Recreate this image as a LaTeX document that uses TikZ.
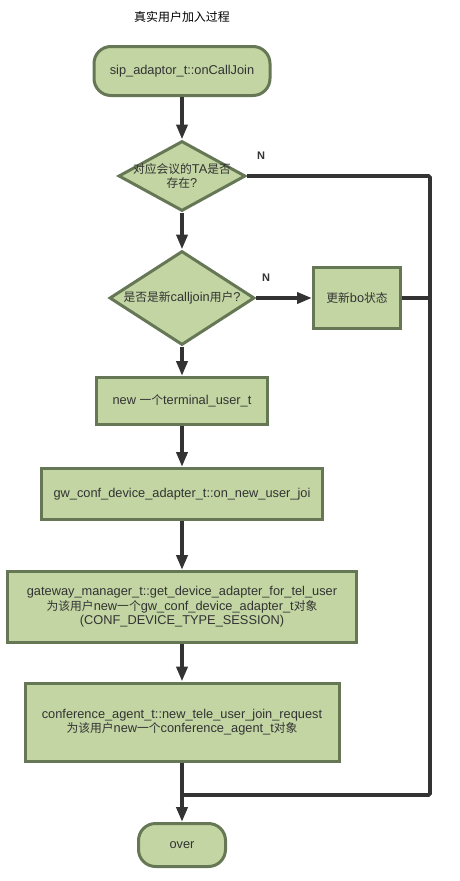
\documentclass[tikz,border=0pt]{standalone}
\usepackage{fontspec}
\setmainfont{Liberation Sans}
\newfontfamily\cjkfont[Scale=0.92]{Noto Sans CJK SC}
\usetikzlibrary{arrows.meta,positioning,shapes.geometric}
\definecolor{boxfill}{HTML}{C2D5A3}
\definecolor{boxline}{HTML}{667755}
\definecolor{flowline}{HTML}{333333}
\newcommand{\zh}[1]{{\cjkfont #1}}
\tikzset{
  terminal/.style={rectangle, rounded corners=17pt, draw=boxline, fill=boxfill, line width=3pt, text=flowline, font=\fontsize{12.8}{14.5}\selectfont, align=center},
  process/.style={rectangle, draw=boxline, fill=boxfill, line width=3pt, text=flowline, font=\fontsize{12.8}{14.5}\selectfont, align=center},
  decision/.style={diamond, draw=boxline, fill=boxfill, line width=3pt, inner sep=0pt},
  dtext/.style={text=flowline, font=\fontsize{12.8}{14.5}\selectfont, align=center, inner sep=0pt},
  arrow/.style={-{Triangle[length=15pt,width=11pt]}, line width=3.8pt, flowline},
  plainline/.style={line width=3.8pt, flowline, rounded corners=1.5pt},
  nlabel/.style={font=\bfseries\fontsize{11}{13}\selectfont, text=flowline},
  heading/.style={font=\fontsize{13}{15}\selectfont, text=black}
}

\begin{document}
\begin{tikzpicture}[x=1pt,y=-1pt]
  \useasboundingbox (0,0) rectangle (459,881);
  \node[heading] (title) at (182,17) {\zh{真实用户加入过程}};
  \node[terminal, minimum width=176pt, minimum height=49pt] (start) at (182,71) {sip\_adaptor\_t::onCallJoin};
  \node[decision, minimum width=127pt, minimum height=70pt] (tacheck) at (182,176) {};
  \node[dtext] (tatext) at (tacheck) {\zh{对应会议的}TA\zh{是否}\\\zh{存在}?};
  \node[decision, minimum width=145pt, minimum height=94pt] (newcheck) at (182,298) {};
  \node[dtext] (newtext) at (newcheck) {\zh{是否是新}calljoin\zh{用户}?};
  \node[process, minimum width=87pt, minimum height=61pt] (updbo) at (357,298) {\zh{更新}bo\zh{状态}};
  \node[process, minimum width=171pt, minimum height=47pt] (newterm) at (182,401) {new \zh{一个}terminal\_user\_t};
  \node[process, minimum width=281pt, minimum height=51pt] (onjoin) at (182,494) {gw\_conf\_device\_adapter\_t::on\_new\_user\_joi};
  \node[process, minimum width=349pt, minimum height=71pt] (getadp) at (182,607) {gateway\_manager\_t::get\_device\_adapter\_for\_tel\_user\\\zh{为该用户}new\zh{一个}gw\_conf\_device\_adapter\_t\zh{对象}\\(CONF\_DEVICE\_TYPE\_SESSION)};
  \node[process, minimum width=314pt, minimum height=78pt] (agent) at (182,722) {conference\_agent\_t::new\_tele\_user\_join\_request\\\zh{为该用户}new\zh{一个}conference\_agent\_t\zh{对象}};
  \node[terminal, minimum width=87pt, minimum height=43pt] (over) at (182,845) {over};
  \coordinate (rc) at (430,795);
  \node[nlabel] (n1) at (261,156) {N};
  \node[nlabel] (n2) at (266,278) {N};
  \draw[arrow] (start) -- (tacheck);
  \draw[arrow] (tacheck) -- (newcheck);
  \draw[arrow] (newcheck) -- (updbo);
  \draw[arrow] (newcheck) -- (newterm);
  \draw[arrow] (newterm) -- (onjoin);
  \draw[arrow] (onjoin) -- (getadp);
  \draw[arrow] (getadp) -- (agent);
  \draw[arrow] (agent) -- (over);
  \draw[plainline] (tacheck.east) -| (rc) -- (rc -| over);
  \draw[plainline] (updbo.east) -- (updbo.east -| rc);
\end{tikzpicture}
\end{document}
